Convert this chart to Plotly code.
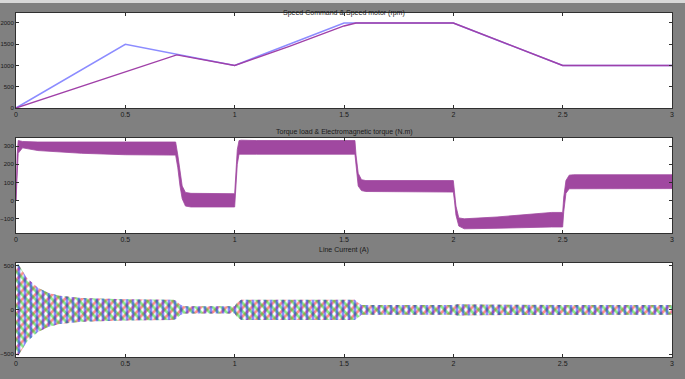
import plotly.graph_objects as go

# ---------------- data ----------------
# Panel 1: speed command & motor speed (rpm)
t_cmd = [0, 0.5, 1.0, 1.5, 2.0, 2.5, 3.0]
speed_cmd = [0, 1500, 1000, 2000, 2000, 1000, 1000]
t_motor = [0, 0.5, 0.735, 1.0, 1.25, 1.5, 1.555, 2.0, 2.5, 3.0]
speed_motor = [0, 850, 1250, 1000, 1450, 1930, 2000, 2000, 1000, 1000]

# Panel 2: electromagnetic torque band (N.m) - upper and lower edges of the ripple band
t_te = [0, 0.005, 0.01, 0.03, 0.1, 0.3, 0.5, 0.73, 0.74, 0.75, 0.76, 0.775, 0.8, 1.0,
        1.005, 1.012, 1.02, 1.03, 1.1, 1.55, 1.555, 1.565, 1.58, 1.6, 2.0, 2.005, 2.012,
        2.025, 2.05, 2.2, 2.45, 2.5, 2.505, 2.515, 2.53, 2.55, 3.0]
te_top = [0, 250, 330, 325, 322, 322, 322, 322, 250, 150, 80, 45, 40, 38,
          150, 280, 330, 332, 330, 330, 250, 150, 115, 110, 110, 60, -30,
          -95, -100, -90, -65, -65, 20, 110, 140, 142, 142]
te_bot = [0, 150, 260, 290, 275, 260, 252, 250, 180, 80, 10, -30, -35, -35,
          50, 200, 255, 258, 255, 255, 190, 80, 55, 50, 47, 0, -80,
          -140, -155, -152, -145, -145, -60, 40, 65, 66, 66]

# Panel 3: line current envelope (A)
t_i = [0, 0.01, 0.02, 0.05, 0.1, 0.15, 0.2, 0.3, 0.5, 0.72, 0.735, 0.75, 0.77, 1.0,
       1.01, 1.03, 1.55, 1.56, 1.58, 2.0, 2.02, 2.1, 2.5, 3.0]
i_amp = [500, 520, 480, 360, 250, 190, 160, 135, 120, 115, 100, 60, 40, 40,
         80, 115, 115, 90, 55, 55, 65, 60, 55, 55]

x_ticks = [0, 0.5, 1, 1.5, 2, 2.5, 3]
x_tick_text = ["0", "0.5", "1", "1.5", "2", "2.5", "3"]
titles = ["Speed Command & Speed motor (rpm)",
          "Torque load & Electromagnetic torque (N.m)",
          "Line Current (A)"]

# ---------------- figure ----------------
GREY = "#808080"
FONT = "Liberation Sans Narrow, Liberation Sans, sans-serif"
fig = go.Figure()

fig.add_trace(go.Scatter(x=t_cmd, y=speed_cmd, mode="lines",
                         line=dict(color="#8c8cff", width=1.6), xaxis="x", yaxis="y"))
fig.add_trace(go.Scatter(x=t_motor, y=speed_motor, mode="lines",
                         line=dict(color="#a040a8", width=1.4), xaxis="x", yaxis="y"))

# torque band
fig.add_trace(go.Scatter(x=t_te + t_te[::-1], y=te_top + te_bot[::-1], mode="lines",
                         fill="toself", fillcolor="#a048a0",
                         line=dict(color="#a048a0", width=0.8), xaxis="x2", yaxis="y2"))

# current band: three phases rendered as patterned bands
i_up = i_amp
i_lo = [-a for a in i_amp]
for col, shp in [("#ff1a1a", "/"), ("#14d814", "\\"), ("#1a1aff", "|")]:
    fig.add_trace(go.Scatter(x=t_i + t_i[::-1], y=i_up + i_lo[::-1], mode="lines",
                             fill="toself", fillcolor="rgba(0,0,0,0)",
                             fillpattern=dict(shape=shp, fgcolor=col,
                                              bgcolor="rgba(0,0,0,0)", size=6, solidity=0.45),
                             line=dict(color="rgba(0,0,0,0)", width=0), xaxis="x3", yaxis="y3"))

xdom = [16 / 685, 672 / 685]
ydoms = [[1 - 108 / 379, 1 - 13 / 379], [1 - 233 / 379, 1 - 138 / 379], [1 - 357 / 379, 1 - 263 / 379]]
yranges = [[0, 2235], [-178, 344], [-534, 531]]
yticks = [[0, 500, 1000, 1500, 2000], [-100, 0, 100, 200, 300], [-500, 0, 500]]

axcommon = dict(showgrid=False, zeroline=False, showline=True, linecolor="#303030",
                linewidth=1, mirror="ticks", ticks="inside", ticklen=3, automargin=False,
                tickcolor="#303030", tickfont=dict(family=FONT, size=7, color="#1a1a1a"))
layout = dict(width=685, height=379, margin=dict(l=0, r=0, t=0, b=0, pad=0),
              paper_bgcolor=GREY, plot_bgcolor="white", showlegend=False)
for k in range(3):
    sx = "" if k == 0 else str(k + 1)
    layout["xaxis" + sx] = dict(axcommon, domain=xdom, range=[0, 3], anchor="y" + sx,
                                tickvals=x_ticks, ticktext=x_tick_text)
    layout["yaxis" + sx] = dict(axcommon, domain=ydoms[k], range=yranges[k], anchor="x" + sx,
                                tickvals=yticks[k], tickfont=dict(family=FONT, size=6, color="#1a1a1a"),
                                ticklabelstandoff=0)
fig.update_layout(**layout)

for k, (title, ypix) in enumerate(zip(titles, [7, 132, 256])):
    fig.add_annotation(text=title, x=0.5 * (xdom[0] + xdom[1]), y=1 - ypix / 379,
                       xref="paper", yref="paper", showarrow=False,
                       font=dict(family=FONT, size=7, color="#1a1a1a"))

fig.add_shape(type="rect", xref="paper", yref="paper", x0=0, x1=1, y0=1 - 3 / 379, y1=1,
              fillcolor="#d8d8d8", line=dict(width=0), layer="below")

fig.write_html("out.html", config={"displayModeBar": False},
               post_script="document.body.style.margin='0';")
